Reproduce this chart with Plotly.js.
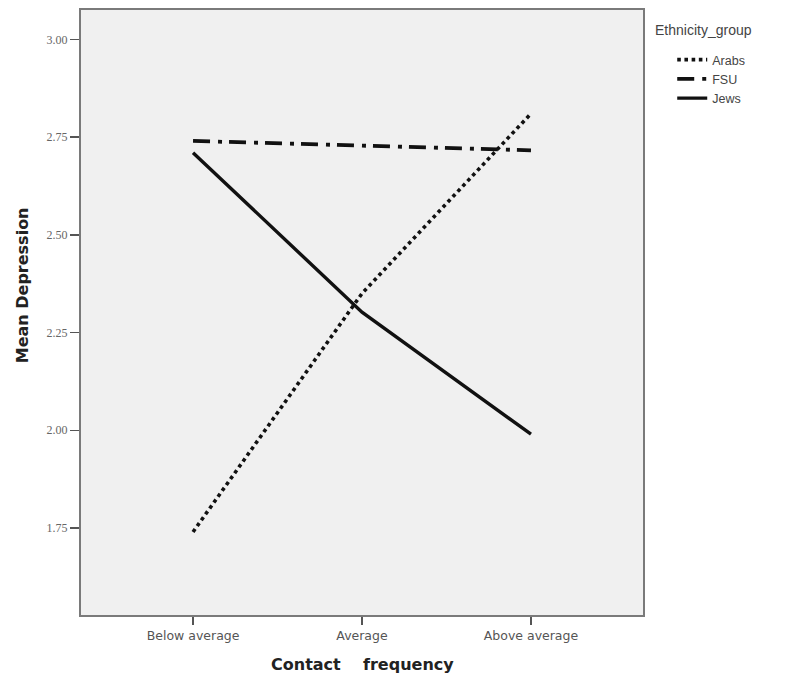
<!DOCTYPE html>
<html>
<head>
<meta charset="utf-8">
<script src="https://cdn.plot.ly/plotly-3.0.1.min.js"></script>
<style>html,body{margin:0;padding:0;background:#fff;}#chart{width:785px;height:686px;}</style>
</head>
<body>
<div id="chart"></div>
<script>
var categories = ["Below average", "Average", "Above average"];
var arabs = [1.74, 2.35, 2.81];
var fsu = [2.74, 2.728, 2.716];
var jews = [2.71, 2.302, 1.99];
var yTicks = [1.75, 2.00, 2.25, 2.50, 2.75, 3.00];
var yTickLabels = ["1.75", "2.00", "2.25", "2.50", "2.75", "3.00"];
var seriesNames = ["Arabs", "FSU", "Jews"];

var traces = [
  {x: categories, y: arabs, name: seriesNames[0], type: "scatter", mode: "lines",
   line: {color: "#111", width: 3.6, dash: "3.6px,3.6px"}},
  {x: categories, y: fsu, name: seriesNames[1], type: "scatter", mode: "lines",
   line: {color: "#111", width: 3.8, dash: "17px,8px,4px,7px"}},
  {x: categories, y: jews, name: seriesNames[2], type: "scatter", mode: "lines",
   line: {color: "#111", width: 3.4}}
];

var layout = {
  width: 785, height: 686,
  margin: {l: 81, r: 142, t: 10, b: 71},
  paper_bgcolor: "#ffffff",
  plot_bgcolor: "#f0f0f0",
  showlegend: true,
  legend: {
    x: 1.052, xanchor: "left", y: 0.9421, yanchor: "top",
    font: {family: "Liberation Sans, Arial, sans-serif", size: 12.5, color: "#444"},
    bgcolor: "rgba(0,0,0,0)",
    tracegroupgap: 0,
    itemwidth: 30
  },
  xaxis: {
    type: "category",
    range: [-0.663, 2.663],
    showgrid: false, zeroline: false,
    showline: true, linecolor: "#7a7a7a", linewidth: 2, mirror: true,
    ticks: "outside", ticklen: 8, tickcolor: "#555", tickwidth: 1.5,
    tickfont: {family: "DejaVu Sans, sans-serif", size: 12.5, color: "#555"},
    title: {text: ""}
  },
  yaxis: {
    range: [1.5275, 3.075],
    tickvals: yTicks, ticktext: yTickLabels,
    showgrid: false, zeroline: false,
    showline: true, linecolor: "#7a7a7a", linewidth: 2, mirror: true,
    ticks: "outside", ticklen: 9, tickcolor: "#555", tickwidth: 1.5,
    tickfont: {family: "Liberation Serif, serif", size: 12, color: "#666"},
    title: {text: ""}
  },
  annotations: [
    {text: "Ethnicity_group", xref: "paper", yref: "paper", x: (653 - 81) / 562, y: 1 - (30 - 10) / 605,
     xanchor: "left", yanchor: "middle", showarrow: false,
     font: {family: "Liberation Sans, Arial, sans-serif", size: 14, color: "#444"}},
    {text: "<b>Mean Depression</b>", xref: "paper", yref: "paper", x: -0.105, y: 0.545,
     xanchor: "center", yanchor: "middle", textangle: -90, showarrow: false,
     font: {family: "DejaVu Sans, sans-serif", size: 16, color: "#222"}},
    {text: "<b>Contact\u00a0\u00a0\u00a0\u00a0frequency</b>", xref: "paper", yref: "paper", x: 0.5, y: -0.0826,
     xanchor: "center", yanchor: "middle", showarrow: false,
     font: {family: "DejaVu Sans, sans-serif", size: 16, color: "#222"}}
  ]
};

Plotly.newPlot("chart", traces, layout, {displayModeBar: false, staticPlot: true});
</script>
</body>
</html>
